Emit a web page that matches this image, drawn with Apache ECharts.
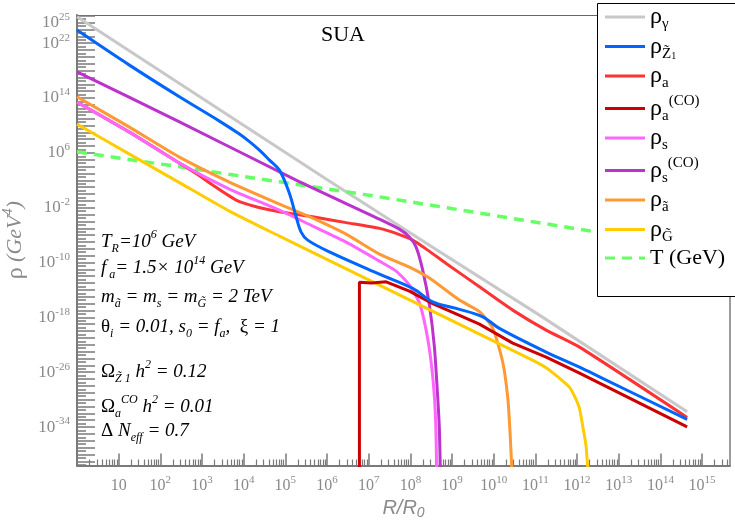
<!DOCTYPE html>
<html>
<head>
<meta charset="utf-8">
<script src="https://cdn.jsdelivr.net/npm/echarts@6/dist/echarts.min.js"></script>
<style>html,body{margin:0;padding:0;background:#fff}#c{width:735px;height:520px}</style>
</head>
<body>
<div id="c"></div>
<script>
// ---- data: x = log10(R/R0), y = log10(rho / GeV^4) ----
const rhoGamma = [[0,25.84],[5.978,2.17],[8.618,-8.10],[11.097,-17.67],[14.641,-31.77]];
const rhoZ1 = [[0,23.90],[1.258,18.79],[2.458,14.17],[3.418,10.62],[3.898,8.73],[4.138,7.63],[4.378,6.39],[4.618,4.94],[4.858,3.48],[5.098,0.08],[5.258,-3.33],[5.378,-5.56],[5.536,-6.73],[6.057,-8.44],[7.257,-11.69],[8.056,-13.77],[8.536,-15.73],[9.098,-16.69],[9.736,-17.92],[10.137,-19.61],[11.258,-23.06],[12.059,-25.25],[12.539,-26.67],[14.641,-32.88]];
const rhoA = [[0,13.40],[1.258,9.02],[2.458,4.50],[2.858,3.00],[3.257,1.29],[3.818,-0.90],[4.298,-1.87],[4.858,-2.60],[5.657,-3.33],[6.458,-4.18],[7.257,-5.02],[7.657,-5.75],[8.056,-6.73],[8.416,-8.19],[8.858,-10.13],[9.657,-13.54],[10.456,-16.94],[11.258,-19.86],[12.059,-22.34],[14.641,-32.59]];
const rhoACO = [[6.777,-41],[6.777,-12.86],[7.065,-13.00],[7.418,-12.81],[7.977,-14.17],[8.536,-15.99],[9.657,-18.98],[10.456,-21.75],[11.258,-23.79],[12.059,-26.13],[12.539,-27.59],[14.641,-33.96]];
const rhoS = [[0,13.40],[1.258,9.02],[2.458,4.50],[3.657,0.71],[4.858,-2.36],[5.657,-4.69],[6.458,-7.02],[7.257,-9.79],[7.657,-11.25],[7.977,-13.29],[8.218,-15.92],[8.378,-19.86],[8.498,-24.52],[8.577,-29.63],[8.613,-34.44],[8.632,-41]];
const rhoSCO = [[0,17.81],[2.458,10.52],[5.258,2.02],[7.257,-3.67],[7.737,-5.13],[7.977,-6.29],[8.138,-7.75],[8.296,-11.11],[8.457,-16.21],[8.577,-22.34],[8.656,-29.63],[8.697,-34.44],[8.721,-41]];
const rhoAxino = [[0,14.17],[1.258,9.75],[2.458,5.37],[3.657,1.73],[4.858,-1.48],[5.657,-3.52],[6.458,-5.86],[7.257,-8.77],[7.977,-10.67],[8.457,-12.27],[9.177,-15.48],[9.657,-17.16],[9.976,-19.56],[10.216,-24.52],[10.336,-29.63],[10.389,-34.44],[10.441,-41]];
const rhoGravitino = [[0,10.19],[1.258,5.81],[2.458,1.66],[3.657,-2.50],[4.858,-6.15],[6.057,-9.72],[7.257,-13.29],[8.457,-16.87],[9.657,-20.44],[10.857,-24.01],[11.258,-25.33],[11.577,-26.86],[11.817,-28.17],[11.961,-29.77],[12.057,-31.25],[12.153,-34.44],[12.213,-36.63],[12.261,-40.27]];
const temperature = [[0,6.15],[2.458,3.96],[4.858,1.77],[7.257,-0.42],[12.18,-5.27],[14.641,-7.73]];

const xLabelExps = [1,2,3,4,5,6,7,8,9,10,11,12,13,14,15];
const yLabelExps = [-34,-26,-18,-10,-2,6,14,22,25];

const X_MIN = 0, X_MAX = 15.67, Y_MIN = -39.6, Y_MAX = 26.1;

const xMinorTicks = [];
for (let d = 0; d < 16; d++) for (let k = 2; k <= 9; k++) { const v = d + Math.log10(k); if (v < X_MAX) xMinorTicks.push(v); }
const yMajorTicks = [], yMinorTicks = [];
for (let n = -39; n <= 26; n++) yMajorTicks.push(n);
for (let n = -40; n <= 25; n++) { const v = n + 0.5; if (v > Y_MIN && v < Y_MAX) yMinorTicks.push(v); }

const SERIF = "'Liberation Serif','DejaVu Serif',serif";
const SANS = "'Liberation Sans','DejaVu Sans',sans-serif";
const AX = '#7a7a7a';
const LBL = '#8a8a8a';

const labelRich = {
  b: {fontFamily: SERIF, fontSize: 17, color: LBL, lineHeight: 22},
  s: {fontFamily: SERIF, fontSize: 11, color: LBL, verticalAlign: 'top'}
};
const xLabelRich = {
  b: {fontFamily: SERIF, fontSize: 16, color: LBL, lineHeight: 22},
  s: {fontFamily: SERIF, fontSize: 11, color: LBL, verticalAlign: 'top'}
};
function powLabel(v) { v = Math.round(v); return v === 1 ? '{b|10}' : '{b|10}{s|' + v + '}'; }

const LINE_ICON = 'rect';
const DASH_ICON = 'path://M0,0h10v3h-10z M17,0h10v3h-10z M34,0h6v3h-6z';
const legendNames = ['g','z','a','aco','s','sco','ax','gr','t'];
const legendText = {
  g: '{r|ρ}{sub|γ}',
  z: '{r|ρ}{sub|Z\u0303}{sub2|1}',
  a: '{r|ρ}{sub|a}',
  aco: '{r|ρ}{sub|a}{sup|(CO)}',
  s: '{r|ρ}{sub|s}',
  sco: '{r|ρ}{sub|s}{sup|(CO)}',
  ax: '{r|ρ}{sub|\u00e3}',
  gr: '{r|ρ}{sub|G\u0303}',
  t: '{t|T (GeV)}'
};

function mkLine(name, data, color, extra) {
  return Object.assign({
    type: 'line', name: name, data: data, showSymbol: false, symbol: 'none',
    lineStyle: {color: color, width: 3}, itemStyle: {color: color},
    smooth: 0.2, clip: true, animation: false, z: 2
  }, extra || {});
}

const annRich = {
  i: {fontFamily: SERIF, fontSize: 19, fontStyle: 'italic', fill: '#000', color: '#000', lineHeight: 26},
  n: {fontFamily: SERIF, fontSize: 19, fill: '#000', color: '#000', lineHeight: 26},
  sub: {fontFamily: SERIF, fontSize: 12, fontStyle: 'italic', fill: '#000', color: '#000', verticalAlign: 'bottom'},
  sup: {fontFamily: SERIF, fontSize: 12, fontStyle: 'italic', fill: '#000', color: '#000', verticalAlign: 'top'}
};
const annotations = [
  ['{i|T}{sub|R}{i|=10}{sup|6}{i| GeV}', 242],
  ['{i|f}{sub| a}{i|= 1.5× 10}{sup|14}{i| GeV}', 268],
  ['{i|m}{sub|\u00e3}{i| = m}{sub|s}{i| = m}{sub|G\u0303}{i| = 2 TeV}', 297],
  ['{n|θ}{sub|i}{i| = 0.01, s}{sub|0}{i| = f}{sub|a}{i|,  }{n|ξ}{i| = 1}', 327],
  ['{n|Ω}{sub|Z\u0303 1}{i| h}{sup|2}{i| = 0.12}', 372],
  ['{n|Ω}{sub|a}{sup|CO}{i| h}{sup|2}{i| = 0.01}', 407],
  ['{n|Δ}{i| N}{sub|eff}{i| = 0.7}', 431]
];

const chart = echarts.init(document.getElementById('c'), null, {renderer: 'canvas'});
chart.setOption({
  animation: false,
  backgroundColor: '#fff',
  grid: {left: 77, right: 5, top: 15, bottom: 54.5, containLabel: false, outerBoundsMode: 'none'},
  xAxis: [
    {type: 'value', min: X_MIN, max: X_MAX, position: 'bottom',
     axisLine: {show: true, onZero: false, lineStyle: {color: AX, width: 2}},
     axisTick: {show: true, inside: true, length: 12, customValues: xLabelExps, lineStyle: {color: AX, width: 1.5}},
     axisLabel: {show: true, customValues: xLabelExps, formatter: powLabel, rich: xLabelRich, margin: 9},
     splitLine: {show: false},
     name: '{i|R/R}{sub|0}', nameLocation: 'middle', nameGap: 10,
     nameTextStyle: {rich: {
       i: {fontFamily: SANS, fontSize: 20, fontStyle: 'italic', color: LBL, lineHeight: 24},
       sub: {fontFamily: SANS, fontSize: 14, fontStyle: 'italic', color: LBL, verticalAlign: 'bottom'}}}},
    {type: 'value', min: X_MIN, max: X_MAX, position: 'bottom',
     axisLine: {show: false, onZero: false},
     axisTick: {show: true, inside: true, length: 6, customValues: xMinorTicks, lineStyle: {color: AX, width: 1.2}},
     axisLabel: {show: false}, splitLine: {show: false}},
    {type: 'value', min: X_MIN, max: X_MAX, position: 'top',
     axisLine: {show: true, onZero: false, lineStyle: {color: '#666', width: 1.2}},
     axisTick: {show: false}, axisLabel: {show: false}, splitLine: {show: false}}
  ],
  yAxis: [
    {type: 'value', min: Y_MIN, max: Y_MAX, position: 'left',
     axisLine: {show: true, onZero: false, lineStyle: {color: AX, width: 2}},
     axisTick: {show: true, inside: true, length: 18, customValues: yMajorTicks, lineStyle: {color: AX, width: 1.5}},
     axisLabel: {show: true, customValues: yLabelExps, formatter: powLabel, rich: labelRich, margin: 7},
     splitLine: {show: false},
     name: '{n|ρ}{i| (GeV}{sup|4}{i|)}', nameLocation: 'middle', nameGap: 44, nameRotate: 90,
     nameTextStyle: {rich: {
       n: {fontFamily: SERIF, fontSize: 24, color: LBL, lineHeight: 28},
       i: {fontFamily: SERIF, fontSize: 22, fontStyle: 'italic', color: LBL, lineHeight: 28},
       sup: {fontFamily: SERIF, fontSize: 14, fontStyle: 'italic', color: LBL, verticalAlign: 'top'}}}},
    {type: 'value', min: Y_MIN, max: Y_MAX, position: 'left',
     axisLine: {show: false, onZero: false},
     axisTick: {show: true, inside: true, length: 9, customValues: yMinorTicks, lineStyle: {color: AX, width: 1.5}},
     axisLabel: {show: false}, splitLine: {show: false}},
    {type: 'value', min: Y_MIN, max: Y_MAX, position: 'right',
     axisLine: {show: true, onZero: false, lineStyle: {color: AX, width: 1.5}},
     axisTick: {show: false}, axisLabel: {show: false}, splitLine: {show: false}}
  ],
  legend: {
    data: legendNames.map(function (n) { return {name: n, icon: n === 't' ? DASH_ICON : LINE_ICON}; }),
    orient: 'vertical', left: 605, top: 5, padding: 0,
    itemWidth: 40, itemHeight: 3, itemGap: 2.5, selectedMode: false, z: 20,
    formatter: function (n) { return legendText[n]; },
    textStyle: {rich: {
      r: {fontFamily: SERIF, fontSize: 24, color: '#000', lineHeight: 30},
      sub: {fontFamily: SERIF, fontSize: 15, color: '#000', verticalAlign: 'bottom'},
      sub2: {fontFamily: SERIF, fontSize: 10, color: '#000', verticalAlign: 'bottom'},
      sup: {fontFamily: SERIF, fontSize: 15, color: '#000', verticalAlign: 'top'},
      t: {fontFamily: SERIF, fontSize: 22, color: '#000', lineHeight: 30}
    }}
  },
  graphic: [
    {type: 'rect', z: 10, shape: {x: 597.5, y: 3.5, width: 150, height: 293}, style: {fill: '#fff', stroke: '#000', lineWidth: 1}},
    {type: 'text', z: 10, x: 343, y: 35, style: {text: 'SUA', font: "22px 'Liberation Serif', serif", fill: '#000', textAlign: 'center', textVerticalAlign: 'middle'}}
  ].concat(annotations.map(function (a) {
    return {type: 'text', z: 10, x: 101, y: a[1], style: {text: a[0], rich: annRich, textAlign: 'left', textVerticalAlign: 'middle', fill: '#000'}};
  })),
  series: [
    mkLine('g', rhoGamma, '#c8c8c8', {smooth: false}),
    mkLine('t', temperature, '#66ff66', {smooth: false, lineStyle: {color: '#66ff66', width: 3.5, type: [10, 7]}}),
    mkLine('a', rhoA, '#ff3333'),
    mkLine('sco', rhoSCO, '#bb33cc'),
    mkLine('s', rhoS, '#ff66ff'),
    mkLine('ax', rhoAxino, '#ff9933'),
    mkLine('gr', rhoGravitino, '#ffcc00'),
    mkLine('aco', rhoACO, '#cc0000', {smooth: false}),
    mkLine('z', rhoZ1, '#0066ff', {smooth: 0.35})
  ]
});
</script>
</body>
</html>
